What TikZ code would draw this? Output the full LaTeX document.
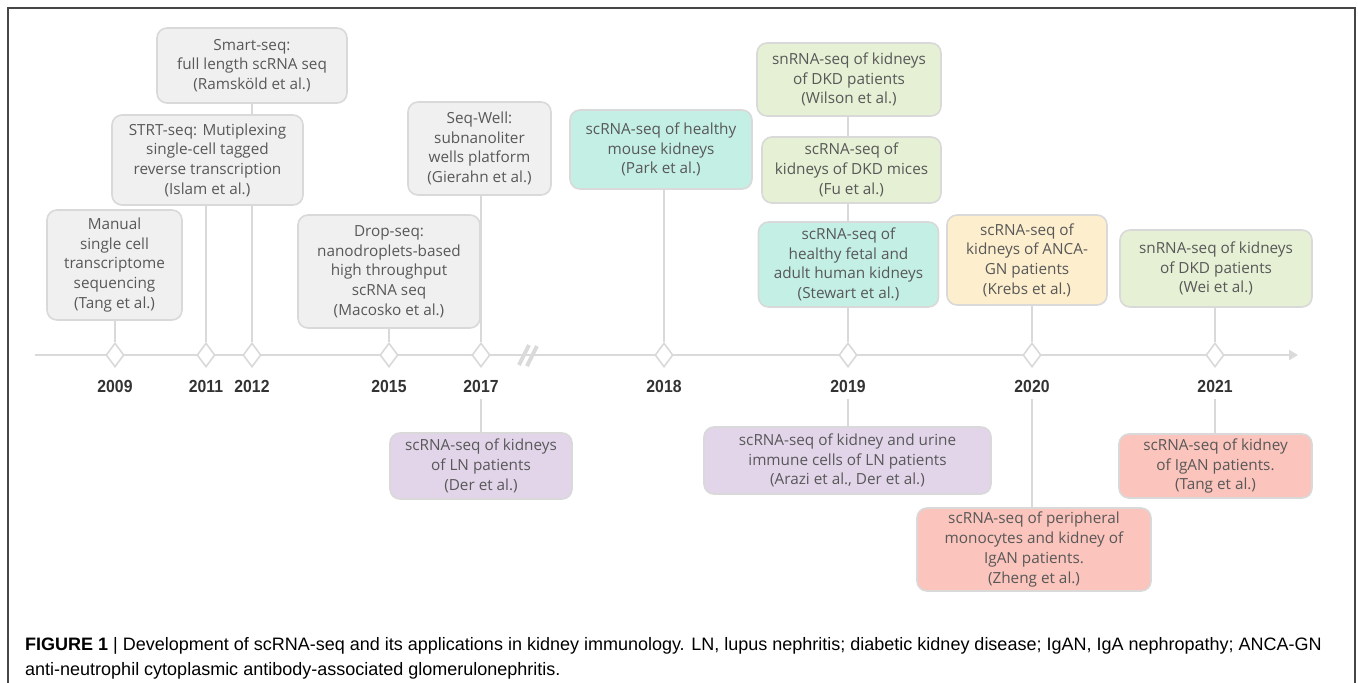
\documentclass[tikz,border=0pt]{standalone}
\usepackage{fontspec}
\setmainfont{Open Sans}
\newfontfamily\capfont{Liberation Sans}
\newfontfamily\yearfont[FakeStretch=0.9]{Liberation Sans}
\usepackage{tikz}
\usetikzlibrary{shapes.geometric,arrows.meta,backgrounds}

\definecolor{ink}{RGB}{88, 88, 88}
\definecolor{yearink}{RGB}{51, 51, 51}
\definecolor{boxline}{RGB}{217, 217, 217}
\definecolor{axisgrey}{RGB}{218, 218, 218}
\definecolor{framegrey}{RGB}{70, 70, 70}
\definecolor{greybox}{RGB}{240, 240, 240}
\definecolor{tealbox}{RGB}{196, 239, 228}
\definecolor{greenbox}{RGB}{229, 240, 212}
\definecolor{orangebox}{RGB}{253, 238, 205}
\definecolor{purplebox}{RGB}{226, 213, 234}
\definecolor{salmonbox}{RGB}{251, 196, 188}

\tikzset{
  event/.style    = {draw=boxline, line width=1.6pt, rounded corners=10pt,
                     inner sep=0pt, align=center, text=ink,
                     font=\fontsize{15.3}{19.7}\selectfont},
  stem/.style     = {draw=boxline, line width=1.8pt},
  yearmark/.style = {diamond, draw=boxline, fill=white, line width=1.6pt,
                     minimum width=18pt, minimum height=24pt, inner sep=0pt},
  year/.style     = {text=yearink, inner sep=7pt,
                     font=\yearfont\bfseries\fontsize{17.5}{20}\selectfont},
  axis/.style     = {draw=axisgrey, line width=2.5pt,
                     -{Triangle[length=9pt,width=10pt]}},
  breakmark/.style= {draw=axisgrey, line width=4pt},
  caption/.style  = {align=left, inner sep=0pt, text=black,
                     font=\capfont\fontsize{18}{25}\selectfont},
  frame/.style    = {draw=framegrey, line width=1.5pt}
}

\begin{document}
\begin{tikzpicture}[x=1pt, y=-1pt]
  \useasboundingbox (0,0) rectangle (1358,683);
  \draw[frame] (8,683) |- (1355,8) -- (1355,683);

  % time axis
  \coordinate (axisstart) at (35,355);
  \coordinate (axisend) at (1298,355);
  \draw[axis] (axisstart) -- (axisend);
  \draw[breakmark] (519,365) -- (529,345) (527,366) -- (537,346);

  \foreach \yr/\xx in {2009/115, 2011/206, 2012/252, 2015/389, 2017/481,
                       2018/664, 2019/848, 2020/1032, 2021/1215}{
    \node[yearmark] (d\yr) at (\xx,355) {};
    \node[year] (y\yr) at (\xx,386) {\yr};
  }

  % methods
  \node[event, fill=greybox, minimum width=135pt, minimum height=110pt]
    (manual) at (114.5,265) {Manual\\single cell\\transcriptome\\sequencing\\(Tang et al.)};
  \node[event, fill=greybox, minimum width=191pt, minimum height=90pt]
    (strt) at (207.5,160) {STRT-seq: Mutiplexing\\single-cell tagged\\reverse transcription\\(Islam et al.)};
  \node[event, fill=greybox, minimum width=190pt, minimum height=75pt]
    (smart) at (252,65.5) {Smart-seq:\\full length scRNA seq\\(Ramsköld et al.)};
  \node[event, fill=greybox, minimum width=182pt, minimum height=113pt]
    (drop) at (389,271.5) {Drop-seq:\\nanodroplets-based\\high throughput\\scRNA seq\\(Macosko et al.)};
  \node[event, fill=greybox, minimum width=143pt, minimum height=93pt]
    (seqwell) at (479.5,148.5) {Seq-Well:\\subnanoliter\\wells platform\\(Gierahn et al.)};

  % kidney studies
  \node[event, fill=tealbox, minimum width=182pt, minimum height=79pt]
    (park) at (661,149.5) {scRNA-seq of healthy\\mouse kidneys\\(Park et al.)};
  \node[event, fill=greenbox, minimum width=184pt, minimum height=73pt]
    (wilson) at (849,79.5) {snRNA-seq of kidneys\\of DKD patients\\(Wilson et al.)};
  \node[event, fill=greenbox, minimum width=179pt, minimum height=66pt]
    (fu) at (851.5,170) {scRNA-seq of\\kidneys of DKD mices\\(Fu et al.)};
  \node[event, fill=tealbox, minimum width=180pt, minimum height=85pt]
    (stewart) at (848.5,264.5) {scRNA-seq of\\healthy fetal and\\adult human kidneys\\(Stewart et al.)};
  \node[event, fill=orangebox, minimum width=160pt, minimum height=90pt]
    (krebs) at (1027,260) {scRNA-seq of\\kidneys of ANCA-\\GN patients\\(Krebs et al.)};
  \node[event, fill=greenbox, minimum width=192pt, minimum height=77pt]
    (wei) at (1216,268.5) {snRNA-seq of kidneys\\of DKD patients\\(Wei et al.)};

  \node[event, fill=purplebox, minimum width=182pt, minimum height=66pt]
    (der) at (481,466) {scRNA-seq of kidneys\\of LN patients\\(Der et al.)};
  \node[event, fill=purplebox, minimum width=287pt, minimum height=67pt]
    (arazi) at (847.5,460.5) {scRNA-seq of kidney and urine\\immune cells of LN patients\\(Arazi et al., Der et al.)};
  \node[event, fill=salmonbox, minimum width=234pt, minimum height=83pt]
    (zheng) at (1034,549.5) {scRNA-seq of peripheral\\monocytes and kidney of\\IgAN patients.\\(Zheng et al.)};
  \node[event, fill=salmonbox, minimum width=193pt, minimum height=64pt]
    (tang) at (1215.5,466) {scRNA-seq of kidney\\of IgAN patients.\\(Tang et al.)};

  \begin{scope}[on background layer]
    \draw[stem] (manual.south -| d2009) -- (d2009.north);
    \draw[stem] (strt.south -| d2011) -- (d2011.north);
    \draw[stem] (smart.south -| d2012) -- (d2012.north);
    \draw[stem] (drop.south -| d2015) -- (d2015.north);
    \draw[stem] (seqwell.south -| d2017) -- (d2017.north);
    \draw[stem] (park.south -| d2018) -- (d2018.north);
    \draw[stem] (wilson.south -| d2019) -- (d2019.north);
    \draw[stem] (krebs.south -| d2020) -- (d2020.north);
    \draw[stem] (wei.south -| d2021) -- (d2021.north);
    \draw[stem] (y2017.south) -- (y2017.south |- der.north);
    \draw[stem] (y2019.south) -- (y2019.south |- arazi.north);
    \draw[stem] (y2020.south) -- (y2020.south |- zheng.north);
    \draw[stem] (y2021.south) -- (y2021.south |- tang.north);
  \end{scope}

  \node[caption, anchor=north west] (cap) at (25,637)
    {\textbf{FIGURE 1} | Development of scRNA-seq and its applications in kidney immunology. LN, lupus nephritis; diabetic kidney disease; IgAN, IgA nephropathy; ANCA-GN\\
     anti-neutrophil cytoplasmic antibody-associated glomerulonephritis.};
\end{tikzpicture}
\end{document}
